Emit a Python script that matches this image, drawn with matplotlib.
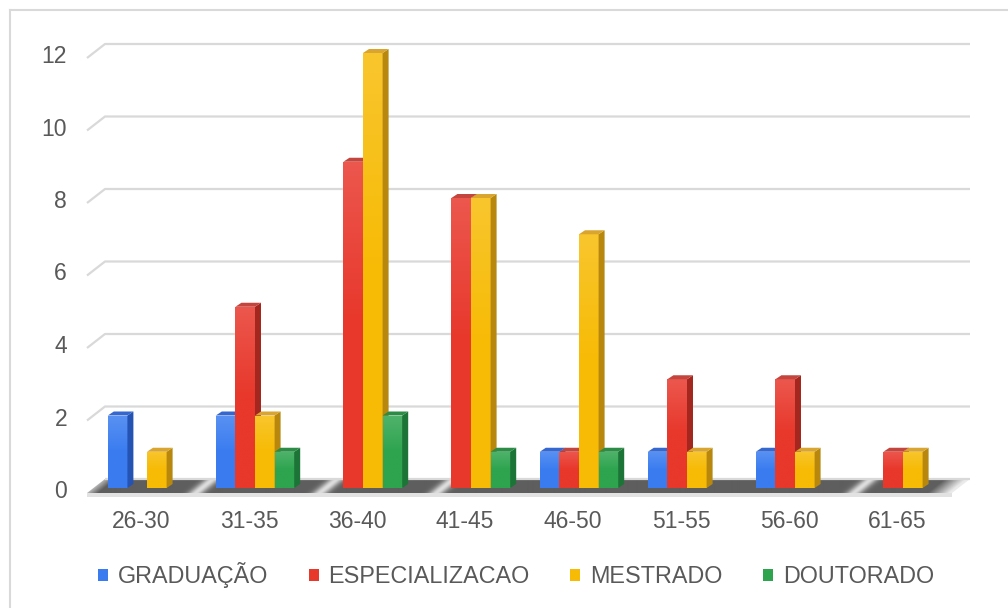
import numpy as np
import matplotlib
matplotlib.use("Agg")
import matplotlib.pyplot as plt
from matplotlib.patches import Polygon, Rectangle, Patch
from matplotlib.lines import Line2D
from matplotlib.colors import to_rgb, LinearSegmentedColormap

# ---- data -------------------------------------------------------------
categories = ["26-30", "31-35", "36-40", "41-45", "46-50", "51-55", "56-60", "61-65"]
graduacao = [2, 2, 0, 0, 1, 1, 1, 0]
especializacao = [0, 5, 9, 8, 1, 3, 3, 1]
mestrado = [1, 2, 12, 8, 7, 1, 1, 1]
doutorado = [0, 1, 2, 1, 1, 0, 0, 0]
series_names = ["GRADUAÇÃO", "ESPECIALIZACAO", "MESTRADO", "DOUTORADO"]
y_ticks = [0, 2, 4, 6, 8, 10, 12]

series = [graduacao, especializacao, mestrado, doutorado]
front_colors = ["#3a7cf0", "#e8372b", "#f7bb05", "#2ea44f"]
side_colors = ["#2553b3", "#a3271f", "#b7880d", "#1d7437"]
top_colors = ["#3468d0", "#c4453d", "#d9a52e", "#2a8c45"]
text_color = "#595959"
grid_color = "#d9d9d9"

plt.rcParams["font.family"] = ["Liberation Sans", "DejaVu Sans"]

# ---- canvas: one axes over the whole figure, scaled so one group = 108 px
W, H = 1008, 608
fig = plt.figure(figsize=(W / 100, H / 100), dpi=100)
ax = fig.add_axes([0, 0, 1, 1])
px_x, px_y = 108.0, 36.25          # pixels per category / per unit
x0_px, y0_px = 147.0, 488.0        # first group centre, baseline (from top)


def dx(p):
    return p / px_x


def dy(p):
    return p / px_y


xlim = (-x0_px / px_x, (W - x0_px) / px_x)
ylim = (-(H - y0_px) / px_y, y0_px / px_y)

# pseudo-3D geometry
wall_dx, wall_dy = dx(18), dy(14)      # depth of the floor / back wall
floor_left = dx(87 - x0_px)
floor_front_y = -dy(5)
floor_back_y = floor_front_y + wall_dy
floor_right_back = dx(970 - x0_px)
floor_right_front = floor_right_back - wall_dx

bar_w = dx(19.6)
bar_ddx, bar_ddy = dx(6), dy(4)

# ---- floor with soft reflective shading --------------------------------
floor_poly = Polygon([(floor_left, floor_front_y), (floor_right_front, floor_front_y),
                      (floor_right_back, floor_back_y), (floor_left + wall_dx, floor_back_y)],
                     closed=True, facecolor="none", edgecolor="none")
ax.add_patch(floor_poly)
nx, ny = 900, 30
xs = np.linspace(floor_left, floor_right_back, nx)
ys = np.linspace(floor_front_y, floor_back_y, ny)
XX, YY = np.meshgrid(xs, ys)
U = XX - (YY - floor_front_y) / wall_dy * wall_dx   # projected onto front edge
shade = np.full_like(U, 0.37)
for s in [0.45, 1.6, 2.68, 6.55]:
    shade += 0.5 * np.exp(-((U - s) / 0.07) ** 2)
shade += 0.55 * np.clip((U - (floor_right_front - 0.22)) / 0.2, 0, 1)
shade += 0.35 * np.clip(1 - (U - floor_left) / 0.1, 0, 1)
shade = np.clip(shade, 0, 0.93)
im = ax.imshow(shade, extent=[xs[0], xs[-1], ys[0], ys[-1]], origin="lower",
               cmap="gray", vmin=0, vmax=1, aspect="auto", zorder=2,
               interpolation="bilinear")
im.set_clip_path(floor_poly)
# floor front edge
ax.add_patch(Rectangle((floor_left, floor_front_y - dy(4)), floor_right_front - floor_left,
                       dy(4), facecolor="#e2e2e2", edgecolor="none", zorder=2))

# ---- back-wall gridlines --------------------------------------------
for v in y_ticks:
    if v == 0:
        xline = [floor_left + wall_dx, floor_right_back]
        yline = [v + floor_back_y] * 2
    else:
        xline = [floor_left, floor_left + wall_dx, floor_right_back]
        yline = [v + floor_front_y, v + floor_back_y, v + floor_back_y]
    ax.plot(xline, yline, color=grid_color, lw=1.6, zorder=3,
            solid_capstyle="butt")

# ---- bars -------------------------------------------------------------
x = np.arange(len(categories))
z = 10
for i in range(len(categories)):
    for k, vals in enumerate(series):
        v = vals[i]
        if v <= 0:
            continue
        left = x[i] + (k - 2) * bar_w
        rect = ax.bar(left, v, width=bar_w, align="edge", color=front_colors[k],
                      edgecolor="none", zorder=z)[0]
        # vertical sheen on the front face
        base = np.array(to_rgb(front_colors[k]))
        light = base + (1 - base) * 0.16
        cmap = LinearSegmentedColormap.from_list("f", [base, base, light])
        grad = np.linspace(0, 1, 64).reshape(-1, 1)
        gim = ax.imshow(grad, extent=[left, left + bar_w, 0, v], origin="lower",
                        cmap=cmap, aspect="auto", zorder=z + 0.1)
        gim.set_clip_path(rect)
        # side face
        r = left + bar_w
        ax.add_patch(Polygon([(r, 0), (r + bar_ddx, bar_ddy), (r + bar_ddx, v + bar_ddy), (r, v)],
                             closed=True, facecolor=side_colors[k], edgecolor="none",
                             zorder=z + 0.2))
        # top face
        ax.add_patch(Polygon([(left, v), (left + bar_ddx, v + bar_ddy),
                              (r + bar_ddx, v + bar_ddy), (r, v)],
                             closed=True, facecolor=top_colors[k], edgecolor="none",
                             zorder=z + 0.2))
        z += 1

# ---- labels -----------------------------------------------------------
for i, c in enumerate(categories):
    ax.text(x[i] - dx(6), -dy(33), c, ha="center", va="center",
            fontsize=16.5, color=text_color)
for v in y_ticks:
    ax.text(dx(67 - x0_px), v - dy(3.5), str(v), ha="right", va="center",
            fontsize=16.5, color=text_color)

handles = [Patch(facecolor=c, edgecolor="none") for c in front_colors]
fig.legend(handles, series_names, loc="center", bbox_to_anchor=(516 / W, 1 - 575 / H),
           ncol=4, frameon=False, fontsize=16.8, labelcolor=text_color,
           handlelength=0.42, handleheight=0.42, handletextpad=0.42,
           columnspacing=1.75, borderpad=0, borderaxespad=0)

# ---- outer frame (top and left edges) ---------------------------------
fig.add_artist(Line2D([9.5 / W, 9.5 / W], [0, 1 - 9.5 / H], transform=fig.transFigure,
                      color=grid_color, lw=1.5))
fig.add_artist(Line2D([9.5 / W, 1], [1 - 9.5 / H, 1 - 9.5 / H], transform=fig.transFigure,
                      color=grid_color, lw=1.5))

ax.set_xlim(*xlim)
ax.set_ylim(*ylim)
ax.axis("off")
fig.savefig("out.png", dpi=100)
